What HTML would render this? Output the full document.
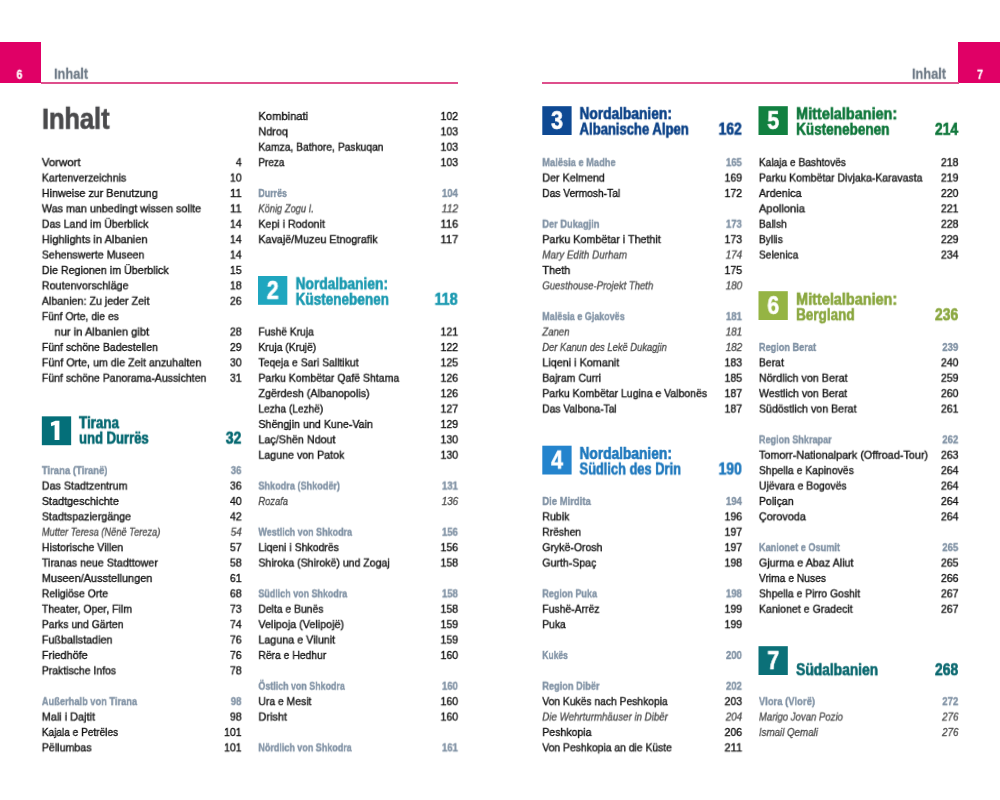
<!DOCTYPE html>
<html><head><meta charset="utf-8"><title>Inhalt</title>
<style>
html,body{margin:0;padding:0;background:#fff}
body{width:1000px;height:800px;position:relative;overflow:hidden;font-family:"Liberation Sans",sans-serif}
#pg{position:absolute;left:0;top:0;width:1000px;height:800px}
.t,.hd,.pn,.h1{will-change:transform}
.t,.hd,.pn,.h1{position:absolute;white-space:nowrap;transform-origin:0 0}
.t{line-height:15px}
.n{font-size:11.8px;color:#161616;-webkit-text-stroke:0.38px currentColor}
.i{font-size:11.8px;color:#505050;font-style:italic;-webkit-text-stroke:0.35px currentColor}
.s{font-size:11.8px;color:#8394a6;font-weight:bold;-webkit-text-stroke:0.4px currentColor}
.c{font-size:16.7px;font-weight:bold;line-height:18px;-webkit-text-stroke:0.65px currentColor}
.box{position:absolute;width:30px;height:29px;will-change:transform;transform-origin:0 0}
.box span{position:absolute;left:0;width:100%;text-align:center;top:0.2px;color:#fff;font-weight:bold;font-size:26.6px;line-height:29px;transform:scaleX(.82);-webkit-text-stroke:0.6px #fff}
.tab{position:absolute;background:#e00066}
.rule{position:absolute;height:1.8px;background:#de4f8c}
.hd{font-weight:bold;color:#707c88;font-size:14.6px;line-height:18px;-webkit-text-stroke:0.3px currentColor}
.pn{font-weight:bold;color:#fff;font-size:12.3px;line-height:14px;-webkit-text-stroke:0.3px #fff}
.h1{font-weight:bold;color:#4a4a4c;font-size:30.4px;line-height:34px;-webkit-text-stroke:0.7px currentColor}
</style></head>
<body>
<div id="pg">
<div class="tab" style="left:0;top:42.2px;width:41.4px;height:41px"></div>
<div class="tab" style="left:958px;top:42.2px;width:42px;height:41px"></div>
<div class="rule" style="left:41px;top:81.9px;width:417px"></div>
<div class="rule" style="left:542px;top:81.9px;width:416.5px"></div>
<span class="pn" style="left:16px;top:67px;transform:translate(0.50px,0.80px) scaleX(0.8600)">6</span>
<span class="pn" style="left:977px;top:67px;transform:translate(0.10px,0.80px) scaleX(0.8600)">7</span>
<span class="hd" style="left:54px;top:64px;transform:translate(0.00px,0.70px) scaleX(0.8750)">Inhalt</span>
<span class="hd" style="left:911px;top:64px;transform:translate(0.94px,0.70px) scaleX(0.8750)">Inhalt</span>
<span class="h1" style="left:41px;top:100px;transform:translate(0.90px,0.80px) scaleX(0.8350)">Inhalt</span>
<span class="t n" style="left:41px;top:155px;transform:translate(0.80px,0.15px) scaleX(0.9694)">Vorwort</span>
<span class="t n" style="left:235px;top:155px;transform:translate(0.80px,0.15px) scaleX(0.8990)">4</span>
<span class="t n" style="left:41px;top:170px;transform:translate(0.80px,0.55px) scaleX(0.9015)">Kartenverzeichnis</span>
<span class="t n" style="left:229px;top:170px;transform:translate(0.90px,0.55px) scaleX(0.8990)">10</span>
<span class="t n" style="left:41px;top:185px;transform:translate(0.80px,0.95px) scaleX(0.9106)">Hinweise zur Benutzung</span>
<span class="t n" style="left:229px;top:185px;transform:translate(0.90px,0.95px) scaleX(0.9633)">11</span>
<span class="t n" style="left:41px;top:201px;transform:translate(0.80px,0.35px) scaleX(0.9127)">Was man unbedingt wissen sollte</span>
<span class="t n" style="left:229px;top:201px;transform:translate(0.90px,0.35px) scaleX(0.9633)">11</span>
<span class="t n" style="left:41px;top:216px;transform:translate(0.80px,0.75px) scaleX(0.8983)">Das Land im Überblick</span>
<span class="t n" style="left:229px;top:216px;transform:translate(0.90px,0.75px) scaleX(0.8990)">14</span>
<span class="t n" style="left:41px;top:232px;transform:translate(0.80px,0.15px) scaleX(0.9371)">Highlights in Albanien</span>
<span class="t n" style="left:229px;top:232px;transform:translate(0.90px,0.15px) scaleX(0.8990)">14</span>
<span class="t n" style="left:41px;top:247px;transform:translate(0.80px,0.55px) scaleX(0.8983)">Sehenswerte Museen</span>
<span class="t n" style="left:229px;top:247px;transform:translate(0.90px,0.55px) scaleX(0.8990)">14</span>
<span class="t n" style="left:41px;top:262px;transform:translate(0.80px,0.95px) scaleX(0.9088)">Die Regionen im Überblick</span>
<span class="t n" style="left:229px;top:262px;transform:translate(0.90px,0.95px) scaleX(0.8990)">15</span>
<span class="t n" style="left:41px;top:278px;transform:translate(0.80px,0.35px) scaleX(0.9118)">Routenvorschläge</span>
<span class="t n" style="left:229px;top:278px;transform:translate(0.90px,0.35px) scaleX(0.8990)">18</span>
<span class="t n" style="left:41px;top:293px;transform:translate(0.80px,0.75px) scaleX(0.9065)">Albanien: Zu jeder Zeit</span>
<span class="t n" style="left:229px;top:293px;transform:translate(0.90px,0.75px) scaleX(0.8990)">26</span>
<span class="t n" style="left:41px;top:309px;transform:translate(0.80px,0.15px) scaleX(0.8764)">Fünf Orte, die es</span>
<span class="t n" style="left:54px;top:324px;transform:translate(0.60px,0.55px) scaleX(0.9420)">nur in Albanien gibt</span>
<span class="t n" style="left:229px;top:324px;transform:translate(0.90px,0.55px) scaleX(0.8990)">28</span>
<span class="t n" style="left:41px;top:339px;transform:translate(0.80px,0.95px) scaleX(0.8944)">Fünf schöne Badestellen</span>
<span class="t n" style="left:229px;top:339px;transform:translate(0.90px,0.95px) scaleX(0.8990)">29</span>
<span class="t n" style="left:41px;top:355px;transform:translate(0.80px,0.35px) scaleX(0.9076)">Fünf Orte, um die Zeit anzuhalten</span>
<span class="t n" style="left:229px;top:355px;transform:translate(0.90px,0.35px) scaleX(0.8990)">30</span>
<span class="t n" style="left:41px;top:370px;transform:translate(0.80px,0.75px) scaleX(0.8927)">Fünf schöne Panorama-Aussichten</span>
<span class="t n" style="left:229px;top:370px;transform:translate(0.90px,0.75px) scaleX(0.8990)">31</span>
<span class="t s" style="left:41px;top:463px;transform:translate(0.80px,0.15px) scaleX(0.8060)">Tirana (Tiranë)</span>
<span class="t s" style="left:230px;top:463px;transform:translate(0.75px,0.15px) scaleX(0.8152)">36</span>
<span class="t n" style="left:41px;top:478px;transform:translate(0.80px,0.55px) scaleX(0.9088)">Das Stadtzentrum</span>
<span class="t n" style="left:229px;top:478px;transform:translate(0.90px,0.55px) scaleX(0.8990)">36</span>
<span class="t n" style="left:41px;top:493px;transform:translate(0.80px,0.95px) scaleX(0.9172)">Stadtgeschichte</span>
<span class="t n" style="left:229px;top:493px;transform:translate(0.90px,0.95px) scaleX(0.8990)">40</span>
<span class="t n" style="left:41px;top:509px;transform:translate(0.80px,0.35px) scaleX(0.9074)">Stadtspaziergänge</span>
<span class="t n" style="left:229px;top:509px;transform:translate(0.90px,0.35px) scaleX(0.8990)">42</span>
<span class="t i" style="left:41px;top:524px;transform:translate(0.80px,0.75px) scaleX(0.7869)">Mutter Teresa (Nënë Tereza)</span>
<span class="t i" style="left:230px;top:524px;transform:translate(0.70px,0.75px) scaleX(0.8381)">54</span>
<span class="t n" style="left:41px;top:540px;transform:translate(0.80px,0.15px) scaleX(0.9013)">Historische Villen</span>
<span class="t n" style="left:229px;top:540px;transform:translate(0.90px,0.15px) scaleX(0.8990)">57</span>
<span class="t n" style="left:41px;top:555px;transform:translate(0.80px,0.55px) scaleX(0.9060)">Tiranas neue Stadttower</span>
<span class="t n" style="left:229px;top:555px;transform:translate(0.90px,0.55px) scaleX(0.8990)">58</span>
<span class="t n" style="left:41px;top:570px;transform:translate(0.80px,0.95px) scaleX(0.9264)">Museen/Ausstellungen</span>
<span class="t n" style="left:229px;top:570px;transform:translate(0.90px,0.95px) scaleX(0.8990)">61</span>
<span class="t n" style="left:41px;top:586px;transform:translate(0.80px,0.35px) scaleX(0.8856)">Religiöse Orte</span>
<span class="t n" style="left:229px;top:586px;transform:translate(0.90px,0.35px) scaleX(0.8990)">68</span>
<span class="t n" style="left:41px;top:601px;transform:translate(0.80px,0.75px) scaleX(0.8929)">Theater, Oper, Film</span>
<span class="t n" style="left:229px;top:601px;transform:translate(0.90px,0.75px) scaleX(0.8990)">73</span>
<span class="t n" style="left:41px;top:617px;transform:translate(0.80px,0.15px) scaleX(0.8836)">Parks und Gärten</span>
<span class="t n" style="left:229px;top:617px;transform:translate(0.90px,0.15px) scaleX(0.8990)">74</span>
<span class="t n" style="left:41px;top:632px;transform:translate(0.80px,0.55px) scaleX(0.9137)">Fußballstadien</span>
<span class="t n" style="left:229px;top:632px;transform:translate(0.90px,0.55px) scaleX(0.8990)">76</span>
<span class="t n" style="left:41px;top:647px;transform:translate(0.80px,0.95px) scaleX(0.9203)">Friedhöfe</span>
<span class="t n" style="left:229px;top:647px;transform:translate(0.90px,0.95px) scaleX(0.8990)">76</span>
<span class="t n" style="left:41px;top:663px;transform:translate(0.80px,0.35px) scaleX(0.8842)">Praktische Infos</span>
<span class="t n" style="left:229px;top:663px;transform:translate(0.90px,0.35px) scaleX(0.8990)">78</span>
<span class="t s" style="left:41px;top:694px;transform:translate(0.80px,0.15px) scaleX(0.7872)">Außerhalb von Tirana</span>
<span class="t s" style="left:230px;top:694px;transform:translate(0.75px,0.15px) scaleX(0.8152)">98</span>
<span class="t n" style="left:41px;top:709px;transform:translate(0.80px,0.55px) scaleX(0.9216)">Mali i Dajtit</span>
<span class="t n" style="left:229px;top:709px;transform:translate(0.90px,0.55px) scaleX(0.8990)">98</span>
<span class="t n" style="left:41px;top:724px;transform:translate(0.80px,0.95px) scaleX(0.8561)">Kajala e Petrëles</span>
<span class="t n" style="left:224px;top:724px;transform:translate(0.00px,0.95px) scaleX(0.8990)">101</span>
<span class="t n" style="left:41px;top:740px;transform:translate(0.80px,0.35px) scaleX(0.9038)">Pëllumbas</span>
<span class="t n" style="left:224px;top:740px;transform:translate(0.00px,0.35px) scaleX(0.8990)">101</span>
<span class="t n" style="left:258px;top:108px;transform:translate(0.40px,0.95px) scaleX(0.9474)">Kombinati</span>
<span class="t n" style="left:440px;top:108px;transform:translate(0.50px,0.95px) scaleX(0.8990)">102</span>
<span class="t n" style="left:258px;top:124px;transform:translate(0.40px,0.35px) scaleX(0.9210)">Ndroq</span>
<span class="t n" style="left:440px;top:124px;transform:translate(0.50px,0.35px) scaleX(0.8990)">103</span>
<span class="t n" style="left:258px;top:139px;transform:translate(0.40px,0.75px) scaleX(0.8709)">Kamza, Bathore, Paskuqan</span>
<span class="t n" style="left:440px;top:139px;transform:translate(0.50px,0.75px) scaleX(0.8990)">103</span>
<span class="t n" style="left:258px;top:155px;transform:translate(0.40px,0.15px) scaleX(0.8431)">Preza</span>
<span class="t n" style="left:440px;top:155px;transform:translate(0.50px,0.15px) scaleX(0.8990)">103</span>
<span class="t s" style="left:258px;top:185px;transform:translate(0.40px,0.95px) scaleX(0.7494)">Durrës</span>
<span class="t s" style="left:441px;top:185px;transform:translate(0.90px,0.95px) scaleX(0.8152)">104</span>
<span class="t i" style="left:258px;top:201px;transform:translate(0.40px,0.35px) scaleX(0.7895)">König Zogu I.</span>
<span class="t i" style="left:441px;top:201px;transform:translate(0.70px,0.35px) scaleX(0.8771)">112</span>
<span class="t n" style="left:258px;top:216px;transform:translate(0.40px,0.75px) scaleX(0.9038)">Kepi i Rodonit</span>
<span class="t n" style="left:440px;top:216px;transform:translate(0.50px,0.75px) scaleX(0.9409)">116</span>
<span class="t n" style="left:258px;top:232px;transform:translate(0.40px,0.15px) scaleX(0.9087)">Kavajë/Muzeu Etnografik</span>
<span class="t n" style="left:440px;top:232px;transform:translate(0.50px,0.15px) scaleX(0.9409)">117</span>
<span class="t n" style="left:258px;top:324px;transform:translate(0.40px,0.55px) scaleX(0.8712)">Fushë Kruja</span>
<span class="t n" style="left:440px;top:324px;transform:translate(0.50px,0.55px) scaleX(0.8990)">121</span>
<span class="t n" style="left:258px;top:339px;transform:translate(0.40px,0.95px) scaleX(0.8731)">Kruja (Krujë)</span>
<span class="t n" style="left:440px;top:339px;transform:translate(0.50px,0.95px) scaleX(0.8990)">122</span>
<span class="t n" style="left:258px;top:355px;transform:translate(0.40px,0.35px) scaleX(0.8825)">Teqeja e Sari Salltikut</span>
<span class="t n" style="left:440px;top:355px;transform:translate(0.50px,0.35px) scaleX(0.8990)">125</span>
<span class="t n" style="left:258px;top:370px;transform:translate(0.40px,0.75px) scaleX(0.8908)">Parku Kombëtar Qafë Shtama</span>
<span class="t n" style="left:440px;top:370px;transform:translate(0.50px,0.75px) scaleX(0.8990)">126</span>
<span class="t n" style="left:258px;top:386px;transform:translate(0.40px,0.15px) scaleX(0.9115)">Zgërdesh (Albanopolis)</span>
<span class="t n" style="left:440px;top:386px;transform:translate(0.50px,0.15px) scaleX(0.8990)">126</span>
<span class="t n" style="left:258px;top:401px;transform:translate(0.40px,0.55px) scaleX(0.8598)">Lezha (Lezhë)</span>
<span class="t n" style="left:440px;top:401px;transform:translate(0.50px,0.55px) scaleX(0.8990)">127</span>
<span class="t n" style="left:258px;top:416px;transform:translate(0.40px,0.95px) scaleX(0.9060)">Shëngjin und Kune-Vain</span>
<span class="t n" style="left:440px;top:416px;transform:translate(0.50px,0.95px) scaleX(0.8990)">129</span>
<span class="t n" style="left:258px;top:432px;transform:translate(0.40px,0.35px) scaleX(0.9109)">Laç/Shën Ndout</span>
<span class="t n" style="left:440px;top:432px;transform:translate(0.50px,0.35px) scaleX(0.8990)">130</span>
<span class="t n" style="left:258px;top:447px;transform:translate(0.40px,0.75px) scaleX(0.9032)">Lagune von Patok</span>
<span class="t n" style="left:440px;top:447px;transform:translate(0.50px,0.75px) scaleX(0.8990)">130</span>
<span class="t s" style="left:258px;top:478px;transform:translate(0.40px,0.55px) scaleX(0.7731)">Shkodra (Shkodër)</span>
<span class="t s" style="left:441px;top:478px;transform:translate(0.90px,0.55px) scaleX(0.8152)">131</span>
<span class="t i" style="left:258px;top:493px;transform:translate(0.40px,0.95px) scaleX(0.7916)">Rozafa</span>
<span class="t i" style="left:441px;top:493px;transform:translate(0.70px,0.95px) scaleX(0.8381)">136</span>
<span class="t s" style="left:258px;top:524px;transform:translate(0.40px,0.75px) scaleX(0.7608)">Westlich von Shkodra</span>
<span class="t s" style="left:441px;top:524px;transform:translate(0.90px,0.75px) scaleX(0.8152)">156</span>
<span class="t n" style="left:258px;top:540px;transform:translate(0.40px,0.15px) scaleX(0.8906)">Liqeni i Shkodrës</span>
<span class="t n" style="left:440px;top:540px;transform:translate(0.50px,0.15px) scaleX(0.8990)">156</span>
<span class="t n" style="left:258px;top:555px;transform:translate(0.40px,0.55px) scaleX(0.8933)">Shiroka (Shirokë) und Zogaj</span>
<span class="t n" style="left:440px;top:555px;transform:translate(0.50px,0.55px) scaleX(0.8990)">158</span>
<span class="t s" style="left:258px;top:586px;transform:translate(0.40px,0.35px) scaleX(0.7568)">Südlich von Shkodra</span>
<span class="t s" style="left:441px;top:586px;transform:translate(0.90px,0.35px) scaleX(0.8152)">158</span>
<span class="t n" style="left:258px;top:601px;transform:translate(0.40px,0.75px) scaleX(0.8768)">Delta e Bunës</span>
<span class="t n" style="left:440px;top:601px;transform:translate(0.50px,0.75px) scaleX(0.8990)">158</span>
<span class="t n" style="left:258px;top:617px;transform:translate(0.40px,0.15px) scaleX(0.9144)">Velipoja (Velipojë)</span>
<span class="t n" style="left:440px;top:617px;transform:translate(0.50px,0.15px) scaleX(0.8990)">159</span>
<span class="t n" style="left:258px;top:632px;transform:translate(0.40px,0.55px) scaleX(0.9087)">Laguna e Vilunit</span>
<span class="t n" style="left:440px;top:632px;transform:translate(0.50px,0.55px) scaleX(0.8990)">159</span>
<span class="t n" style="left:258px;top:647px;transform:translate(0.40px,0.95px) scaleX(0.8764)">Rëra e Hedhur</span>
<span class="t n" style="left:440px;top:647px;transform:translate(0.50px,0.95px) scaleX(0.8990)">160</span>
<span class="t s" style="left:258px;top:678px;transform:translate(0.40px,0.75px) scaleX(0.7531)">Östlich von Shkodra</span>
<span class="t s" style="left:441px;top:678px;transform:translate(0.90px,0.75px) scaleX(0.8152)">160</span>
<span class="t n" style="left:258px;top:694px;transform:translate(0.40px,0.15px) scaleX(0.8790)">Ura e Mesit</span>
<span class="t n" style="left:440px;top:694px;transform:translate(0.50px,0.15px) scaleX(0.8990)">160</span>
<span class="t n" style="left:258px;top:709px;transform:translate(0.40px,0.55px) scaleX(0.9285)">Drisht</span>
<span class="t n" style="left:440px;top:709px;transform:translate(0.50px,0.55px) scaleX(0.8990)">160</span>
<span class="t s" style="left:258px;top:740px;transform:translate(0.40px,0.35px) scaleX(0.7611)">Nördlich von Shkodra</span>
<span class="t s" style="left:441px;top:740px;transform:translate(0.90px,0.35px) scaleX(0.8152)">161</span>
<span class="t s" style="left:542px;top:155px;transform:translate(0.30px,0.15px) scaleX(0.7872)">Malësia e Madhe</span>
<span class="t s" style="left:725px;top:155px;transform:translate(0.90px,0.15px) scaleX(0.8152)">165</span>
<span class="t n" style="left:542px;top:170px;transform:translate(0.30px,0.55px) scaleX(0.9079)">Der Kelmend</span>
<span class="t n" style="left:724px;top:170px;transform:translate(0.50px,0.55px) scaleX(0.8990)">169</span>
<span class="t n" style="left:542px;top:185px;transform:translate(0.30px,0.95px) scaleX(0.8661)">Das Vermosh-Tal</span>
<span class="t n" style="left:724px;top:185px;transform:translate(0.50px,0.95px) scaleX(0.8990)">172</span>
<span class="t s" style="left:542px;top:216px;transform:translate(0.30px,0.75px) scaleX(0.7847)">Der Dukagjin</span>
<span class="t s" style="left:725px;top:216px;transform:translate(0.90px,0.75px) scaleX(0.8152)">173</span>
<span class="t n" style="left:542px;top:232px;transform:translate(0.30px,0.15px) scaleX(0.9091)">Parku Kombëtar i Thethit</span>
<span class="t n" style="left:724px;top:232px;transform:translate(0.50px,0.15px) scaleX(0.8990)">173</span>
<span class="t i" style="left:542px;top:247px;transform:translate(0.30px,0.55px) scaleX(0.8344)">Mary Edith Durham</span>
<span class="t i" style="left:725px;top:247px;transform:translate(0.70px,0.55px) scaleX(0.8381)">174</span>
<span class="t n" style="left:542px;top:262px;transform:translate(0.30px,0.95px) scaleX(0.9286)">Theth</span>
<span class="t n" style="left:724px;top:262px;transform:translate(0.50px,0.95px) scaleX(0.8990)">175</span>
<span class="t i" style="left:542px;top:278px;transform:translate(0.30px,0.35px) scaleX(0.8053)">Guesthouse-Projekt Theth</span>
<span class="t i" style="left:725px;top:278px;transform:translate(0.70px,0.35px) scaleX(0.8381)">180</span>
<span class="t s" style="left:542px;top:309px;transform:translate(0.30px,0.15px) scaleX(0.7614)">Malësia e Gjakovës</span>
<span class="t s" style="left:725px;top:309px;transform:translate(0.90px,0.15px) scaleX(0.8152)">181</span>
<span class="t i" style="left:542px;top:324px;transform:translate(0.30px,0.55px) scaleX(0.8131)">Zanen</span>
<span class="t i" style="left:725px;top:324px;transform:translate(0.70px,0.55px) scaleX(0.8381)">181</span>
<span class="t i" style="left:542px;top:339px;transform:translate(0.30px,0.95px) scaleX(0.7943)">Der Kanun des Lekë Dukagjin</span>
<span class="t i" style="left:725px;top:339px;transform:translate(0.70px,0.95px) scaleX(0.8381)">182</span>
<span class="t n" style="left:542px;top:355px;transform:translate(0.30px,0.35px) scaleX(0.9163)">Liqeni i Komanit</span>
<span class="t n" style="left:724px;top:355px;transform:translate(0.50px,0.35px) scaleX(0.8990)">183</span>
<span class="t n" style="left:542px;top:370px;transform:translate(0.30px,0.75px) scaleX(0.8865)">Bajram Curri</span>
<span class="t n" style="left:724px;top:370px;transform:translate(0.50px,0.75px) scaleX(0.8990)">185</span>
<span class="t n" style="left:542px;top:386px;transform:translate(0.30px,0.15px) scaleX(0.8890)">Parku Kombëtar Lugina e Valbonës</span>
<span class="t n" style="left:724px;top:386px;transform:translate(0.50px,0.15px) scaleX(0.8990)">187</span>
<span class="t n" style="left:542px;top:401px;transform:translate(0.30px,0.55px) scaleX(0.8683)">Das Valbona-Tal</span>
<span class="t n" style="left:724px;top:401px;transform:translate(0.50px,0.55px) scaleX(0.8990)">187</span>
<span class="t s" style="left:542px;top:493px;transform:translate(0.30px,0.95px) scaleX(0.8041)">Die Mirdita</span>
<span class="t s" style="left:725px;top:493px;transform:translate(0.90px,0.95px) scaleX(0.8152)">194</span>
<span class="t n" style="left:542px;top:509px;transform:translate(0.30px,0.35px) scaleX(0.8976)">Rubik</span>
<span class="t n" style="left:724px;top:509px;transform:translate(0.50px,0.35px) scaleX(0.8990)">196</span>
<span class="t n" style="left:542px;top:524px;transform:translate(0.30px,0.75px) scaleX(0.8684)">Rrëshen</span>
<span class="t n" style="left:724px;top:524px;transform:translate(0.50px,0.75px) scaleX(0.8990)">197</span>
<span class="t n" style="left:542px;top:540px;transform:translate(0.30px,0.15px) scaleX(0.8901)">Grykë-Orosh</span>
<span class="t n" style="left:724px;top:540px;transform:translate(0.50px,0.15px) scaleX(0.8990)">197</span>
<span class="t n" style="left:542px;top:555px;transform:translate(0.30px,0.55px) scaleX(0.8952)">Gurth-Spaç</span>
<span class="t n" style="left:724px;top:555px;transform:translate(0.50px,0.55px) scaleX(0.8990)">198</span>
<span class="t s" style="left:542px;top:586px;transform:translate(0.30px,0.35px) scaleX(0.7655)">Region Puka</span>
<span class="t s" style="left:725px;top:586px;transform:translate(0.90px,0.35px) scaleX(0.8152)">198</span>
<span class="t n" style="left:542px;top:601px;transform:translate(0.30px,0.75px) scaleX(0.8806)">Fushë-Arrëz</span>
<span class="t n" style="left:724px;top:601px;transform:translate(0.50px,0.75px) scaleX(0.8990)">199</span>
<span class="t n" style="left:542px;top:617px;transform:translate(0.30px,0.15px) scaleX(0.8705)">Puka</span>
<span class="t n" style="left:724px;top:617px;transform:translate(0.50px,0.15px) scaleX(0.8990)">199</span>
<span class="t s" style="left:542px;top:647px;transform:translate(0.30px,0.95px) scaleX(0.7227)">Kukës</span>
<span class="t s" style="left:725px;top:647px;transform:translate(0.90px,0.95px) scaleX(0.8152)">200</span>
<span class="t s" style="left:542px;top:678px;transform:translate(0.30px,0.75px) scaleX(0.7804)">Region Dibër</span>
<span class="t s" style="left:725px;top:678px;transform:translate(0.90px,0.75px) scaleX(0.8152)">202</span>
<span class="t n" style="left:542px;top:694px;transform:translate(0.30px,0.15px) scaleX(0.8730)">Von Kukës nach Peshkopia</span>
<span class="t n" style="left:724px;top:694px;transform:translate(0.50px,0.15px) scaleX(0.8990)">203</span>
<span class="t i" style="left:542px;top:709px;transform:translate(0.30px,0.55px) scaleX(0.8234)">Die Wehrturmhäuser in Dibër</span>
<span class="t i" style="left:725px;top:709px;transform:translate(0.70px,0.55px) scaleX(0.8381)">204</span>
<span class="t n" style="left:542px;top:724px;transform:translate(0.30px,0.95px) scaleX(0.8929)">Peshkopia</span>
<span class="t n" style="left:724px;top:724px;transform:translate(0.50px,0.95px) scaleX(0.8990)">206</span>
<span class="t n" style="left:542px;top:740px;transform:translate(0.30px,0.35px) scaleX(0.8782)">Von Peshkopia an die Küste</span>
<span class="t n" style="left:724px;top:740px;transform:translate(0.50px,0.35px) scaleX(0.9409)">211</span>
<span class="t n" style="left:758px;top:155px;transform:translate(0.90px,0.15px) scaleX(0.8614)">Kalaja e Bashtovës</span>
<span class="t n" style="left:940px;top:155px;transform:translate(0.90px,0.15px) scaleX(0.8990)">218</span>
<span class="t n" style="left:758px;top:170px;transform:translate(0.90px,0.55px) scaleX(0.8872)">Parku Kombëtar Divjaka-Karavasta</span>
<span class="t n" style="left:940px;top:170px;transform:translate(0.90px,0.55px) scaleX(0.8990)">219</span>
<span class="t n" style="left:758px;top:185px;transform:translate(0.90px,0.95px) scaleX(0.9165)">Ardenica</span>
<span class="t n" style="left:940px;top:185px;transform:translate(0.90px,0.95px) scaleX(0.8990)">220</span>
<span class="t n" style="left:758px;top:201px;transform:translate(0.90px,0.35px) scaleX(0.9478)">Apollonia</span>
<span class="t n" style="left:940px;top:201px;transform:translate(0.90px,0.35px) scaleX(0.8990)">221</span>
<span class="t n" style="left:758px;top:216px;transform:translate(0.90px,0.75px) scaleX(0.8669)">Ballsh</span>
<span class="t n" style="left:940px;top:216px;transform:translate(0.90px,0.75px) scaleX(0.8990)">228</span>
<span class="t n" style="left:758px;top:232px;transform:translate(0.90px,0.15px) scaleX(0.8674)">Byllis</span>
<span class="t n" style="left:940px;top:232px;transform:translate(0.90px,0.15px) scaleX(0.8990)">229</span>
<span class="t n" style="left:758px;top:247px;transform:translate(0.90px,0.55px) scaleX(0.8704)">Selenica</span>
<span class="t n" style="left:940px;top:247px;transform:translate(0.90px,0.55px) scaleX(0.8990)">234</span>
<span class="t s" style="left:758px;top:339px;transform:translate(0.90px,0.95px) scaleX(0.7777)">Region Berat</span>
<span class="t s" style="left:942px;top:339px;transform:translate(0.30px,0.95px) scaleX(0.8152)">239</span>
<span class="t n" style="left:758px;top:355px;transform:translate(0.90px,0.35px) scaleX(0.8845)">Berat</span>
<span class="t n" style="left:940px;top:355px;transform:translate(0.90px,0.35px) scaleX(0.8990)">240</span>
<span class="t n" style="left:758px;top:370px;transform:translate(0.90px,0.75px) scaleX(0.9135)">Nördlich von Berat</span>
<span class="t n" style="left:940px;top:370px;transform:translate(0.90px,0.75px) scaleX(0.8990)">259</span>
<span class="t n" style="left:758px;top:386px;transform:translate(0.90px,0.15px) scaleX(0.9004)">Westlich von Berat</span>
<span class="t n" style="left:940px;top:386px;transform:translate(0.90px,0.15px) scaleX(0.8990)">260</span>
<span class="t n" style="left:758px;top:401px;transform:translate(0.90px,0.55px) scaleX(0.9019)">Südöstlich von Berat</span>
<span class="t n" style="left:940px;top:401px;transform:translate(0.90px,0.55px) scaleX(0.8990)">261</span>
<span class="t s" style="left:758px;top:432px;transform:translate(0.90px,0.35px) scaleX(0.7711)">Region Shkrapar</span>
<span class="t s" style="left:942px;top:432px;transform:translate(0.30px,0.35px) scaleX(0.8152)">262</span>
<span class="t n" style="left:758px;top:447px;transform:translate(0.90px,0.75px) scaleX(0.9195)">Tomorr-Nationalpark (Offroad-Tour)</span>
<span class="t n" style="left:940px;top:447px;transform:translate(0.90px,0.75px) scaleX(0.8990)">263</span>
<span class="t n" style="left:758px;top:463px;transform:translate(0.90px,0.15px) scaleX(0.8825)">Shpella e Kapinovës</span>
<span class="t n" style="left:940px;top:463px;transform:translate(0.90px,0.15px) scaleX(0.8990)">264</span>
<span class="t n" style="left:758px;top:478px;transform:translate(0.90px,0.55px) scaleX(0.8801)">Ujëvara e Bogovës</span>
<span class="t n" style="left:940px;top:478px;transform:translate(0.90px,0.55px) scaleX(0.8990)">264</span>
<span class="t n" style="left:758px;top:493px;transform:translate(0.90px,0.95px) scaleX(0.8961)">Poliçan</span>
<span class="t n" style="left:940px;top:493px;transform:translate(0.90px,0.95px) scaleX(0.8990)">264</span>
<span class="t n" style="left:758px;top:509px;transform:translate(0.90px,0.35px) scaleX(0.9182)">Çorovoda</span>
<span class="t n" style="left:940px;top:509px;transform:translate(0.90px,0.35px) scaleX(0.8990)">264</span>
<span class="t s" style="left:758px;top:540px;transform:translate(0.90px,0.15px) scaleX(0.7781)">Kanionet e Osumit</span>
<span class="t s" style="left:942px;top:540px;transform:translate(0.30px,0.15px) scaleX(0.8152)">265</span>
<span class="t n" style="left:758px;top:555px;transform:translate(0.90px,0.55px) scaleX(0.9126)">Gjurma e Abaz Aliut</span>
<span class="t n" style="left:940px;top:555px;transform:translate(0.90px,0.55px) scaleX(0.8990)">265</span>
<span class="t n" style="left:758px;top:570px;transform:translate(0.90px,0.95px) scaleX(0.8722)">Vrima e Nuses</span>
<span class="t n" style="left:940px;top:570px;transform:translate(0.90px,0.95px) scaleX(0.8990)">266</span>
<span class="t n" style="left:758px;top:586px;transform:translate(0.90px,0.35px) scaleX(0.8816)">Shpella e Pirro Goshit</span>
<span class="t n" style="left:940px;top:586px;transform:translate(0.90px,0.35px) scaleX(0.8990)">267</span>
<span class="t n" style="left:758px;top:601px;transform:translate(0.90px,0.75px) scaleX(0.8989)">Kanionet e Gradecit</span>
<span class="t n" style="left:940px;top:601px;transform:translate(0.90px,0.75px) scaleX(0.8990)">267</span>
<span class="t s" style="left:758px;top:694px;transform:translate(0.90px,0.15px) scaleX(0.7996)">Vlora (Vlorë)</span>
<span class="t s" style="left:942px;top:694px;transform:translate(0.30px,0.15px) scaleX(0.8152)">272</span>
<span class="t i" style="left:758px;top:709px;transform:translate(0.90px,0.55px) scaleX(0.8107)">Marigo Jovan Pozio</span>
<span class="t i" style="left:942px;top:709px;transform:translate(0.10px,0.55px) scaleX(0.8381)">276</span>
<span class="t i" style="left:758px;top:724px;transform:translate(0.90px,0.95px) scaleX(0.8257)">Ismail Qemali</span>
<span class="t i" style="left:942px;top:724px;transform:translate(0.10px,0.95px) scaleX(0.8381)">276</span>
<div class="box" style="left:41px;top:416px;background:#046f79;transform:translate(0.85px,0.35px) scale(0.9767,0.9948)"><span></span></div>
<svg class="one" width="14" height="24" viewBox="48 418 14 24" style="position:absolute;left:48px;top:418px"><polygon fill="#fff" points="59.4,420.8 55.5,420.8 50.8,422.7 51.2,426.2 54.6,425.0 54.6,440.0 59.4,440.0"/></svg>
<span class="t c" style="left:79px;top:414px;color:#036770;transform:translate(0.00px,0.30px) scaleX(0.8035)">Tirana</span>
<span class="t c" style="left:79px;top:429px;color:#036770;transform:translate(0.00px,0.60px) scaleX(0.7819)">und Durrës</span>
<span class="t c" style="left:225px;top:429px;color:#036770;font-size:15.7px;transform:translate(0.80px,0.60px) scaleX(0.8824)">32</span>
<div class="box" style="left:258px;top:275px;background:#1fa6bf;transform:translate(0.00px,0.95px) scale(0.9767,0.9948)"><span>2</span></div>
<span class="t c" style="left:295px;top:275px;color:#1c9ab1;transform:translate(0.60px,0.30px) scaleX(0.8227)">Nordalbanien:</span>
<span class="t c" style="left:295px;top:290px;color:#1c9ab1;transform:translate(0.60px,0.80px) scaleX(0.8123)">Küstenebenen</span>
<span class="t c" style="left:434px;top:290px;color:#1c9ab1;font-size:15.7px;transform:translate(0.60px,0.80px) scaleX(0.9126)">118</span>
<div class="box" style="left:542px;top:106px;background:#0e4993;transform:translate(0.30px,0.15px) scale(0.9767,0.9948)"><span>3</span></div>
<span class="t c" style="left:579px;top:105px;color:#0d4388;transform:translate(0.50px,0.10px) scaleX(0.8227)">Nordalbanien:</span>
<span class="t c" style="left:579px;top:120px;color:#0d4388;transform:translate(0.50px,0.60px) scaleX(0.7833)">Albanische Alpen</span>
<span class="t c" style="left:718px;top:120px;color:#0d4388;font-size:15.7px;transform:translate(0.60px,0.60px) scaleX(0.8821)">162</span>
<div class="box" style="left:542px;top:445px;background:#2484cd;transform:translate(0.30px,0.65px) scale(0.9767,0.9948)"><span>4</span></div>
<span class="t c" style="left:579px;top:445px;color:#217abe;transform:translate(0.50px,0.00px) scaleX(0.8227)">Nordalbanien:</span>
<span class="t c" style="left:579px;top:460px;color:#217abe;transform:translate(0.50px,0.50px) scaleX(0.7709)">Südlich des Drin</span>
<span class="t c" style="left:718px;top:460px;color:#217abe;font-size:15.7px;transform:translate(0.60px,0.50px) scaleX(0.8821)">190</span>
<div class="box" style="left:758px;top:106px;background:#118040;transform:translate(0.50px,0.15px) scale(0.9767,0.9948)"><span>5</span></div>
<span class="t c" style="left:796px;top:105px;color:#0f773b;transform:translate(0.10px,0.30px) scaleX(0.8654)">Mittelalbanien:</span>
<span class="t c" style="left:796px;top:120px;color:#0f773b;transform:translate(0.10px,0.80px) scaleX(0.8123)">Küstenebenen</span>
<span class="t c" style="left:935px;top:120px;color:#0f773b;font-size:15.7px;transform:translate(0.00px,0.80px) scaleX(0.8821)">214</span>
<div class="box" style="left:758px;top:291px;background:#95b444;transform:translate(0.50px,0.15px) scale(0.9767,0.9948)"><span>6</span></div>
<span class="t c" style="left:796px;top:290px;color:#8aa73f;transform:translate(0.10px,0.70px) scaleX(0.8654)">Mittelalbanien:</span>
<span class="t c" style="left:796px;top:306px;color:#8aa73f;transform:translate(0.10px,0.20px) scaleX(0.8074)">Bergland</span>
<span class="t c" style="left:935px;top:306px;color:#8aa73f;font-size:15.7px;transform:translate(0.00px,0.20px) scaleX(0.8821)">236</span>
<div class="box" style="left:758px;top:646px;background:#0b7078;transform:translate(0.50px,0.15px) scale(0.9767,0.9948)"><span>7</span></div>
<span class="t c" style="left:796px;top:661px;color:#0a686f;transform:translate(0.10px,0.20px) scaleX(0.8265)">Südalbanien</span>
<span class="t c" style="left:935px;top:661px;color:#0a686f;font-size:15.7px;transform:translate(0.00px,0.20px) scaleX(0.8821)">268</span>
</div>
</body></html>
